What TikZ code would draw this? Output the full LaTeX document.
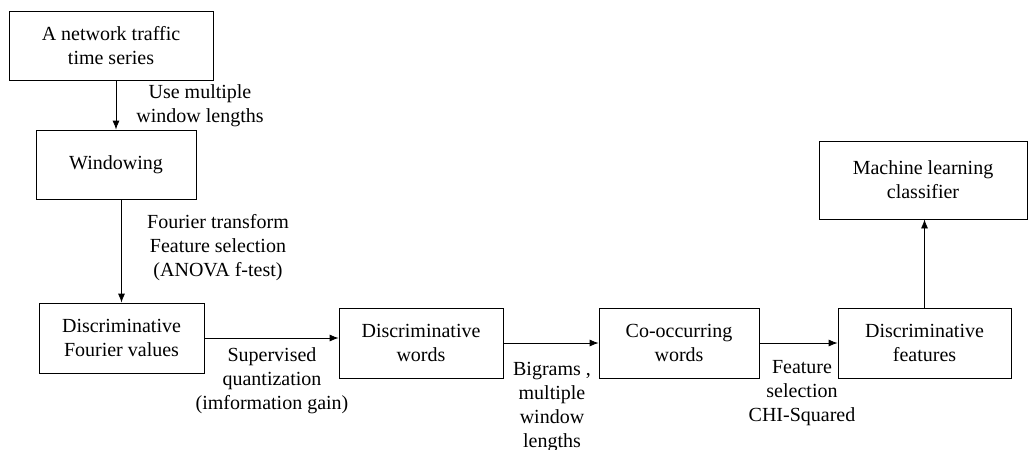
\documentclass[tikz,border=0pt]{standalone}
\usepackage{fontspec}
\setmainfont{Liberation Serif}
\newfontfamily\timesfont{Liberation Serif}
\usepackage{tikz}
\usetikzlibrary{arrows.meta}
\tikzset{
	stage/.style={draw,line width=0.8pt,align=center,inner sep=0pt,font=\timesfont\fontsize{20}{24}\selectfont},
	note/.style={align=center,inner sep=0pt,font=\timesfont\fontsize{20}{24}\selectfont},
	flow/.style={-{Latex[length=9pt,width=7pt]},line width=0.8pt}
}

\begin{document}
\begin{tikzpicture}[x=1pt,y=-1pt]
\useasboundingbox (0,0) rectangle (1029,450);

\node [stage,minimum width=204,minimum height=69] (series)	at (111,45.5) {A network traffic\\time series};
\node [stage,minimum width=160,minimum height=69] (window)	at (116,164.5) {Windowing};
\node [stage,minimum width=165,minimum height=70] (fvalues)	at (121.5,338) {Discriminative\\Fourier values};
\node [stage,minimum width=164,minimum height=70] (dwords)	at (421,343) {Discriminative\\words};
\node [stage,minimum width=160,minimum height=70] (cowords)	at (679,343) {Co-occurring\\words};
\node [stage,minimum width=173,minimum height=70] (dfeat)	at (924.5,343) {Discriminative\\features};
\node [stage,minimum width=208,minimum height=78] (classif)	at (923,180) {Machine learning\\classifier};

\node [note] (winlen)	at (200,105.5) {Use multiple\\window lengths};
\node [note] (fourier)	at (218,247.5) {Fourier transform\\Feature selection\\(ANOVA f-test)};
\node [note] (quant)	at (272,381) {Supervised\\quantization\\(imformation gain)};
\node [note] (bigram)	at (552,407) {Bigrams ,\\multiple\\window\\lengths};
\node [note] (chisq)	at (802,393.5) {Feature\\selection\\CHI-Squared};

\draw [flow] (window.north |- series.south)--(window.north);
\draw [flow] (fvalues.north |- window.south)--(fvalues.north);
\draw [flow] (fvalues.east |- fvalues.center)--(dwords.west |- fvalues.center);
\draw [flow] (dwords)--(cowords);
\draw [flow] (cowords)--(dfeat);
\draw [flow] (dfeat.north)--(dfeat.north |- classif.south);
\end{tikzpicture}
\end{document}
